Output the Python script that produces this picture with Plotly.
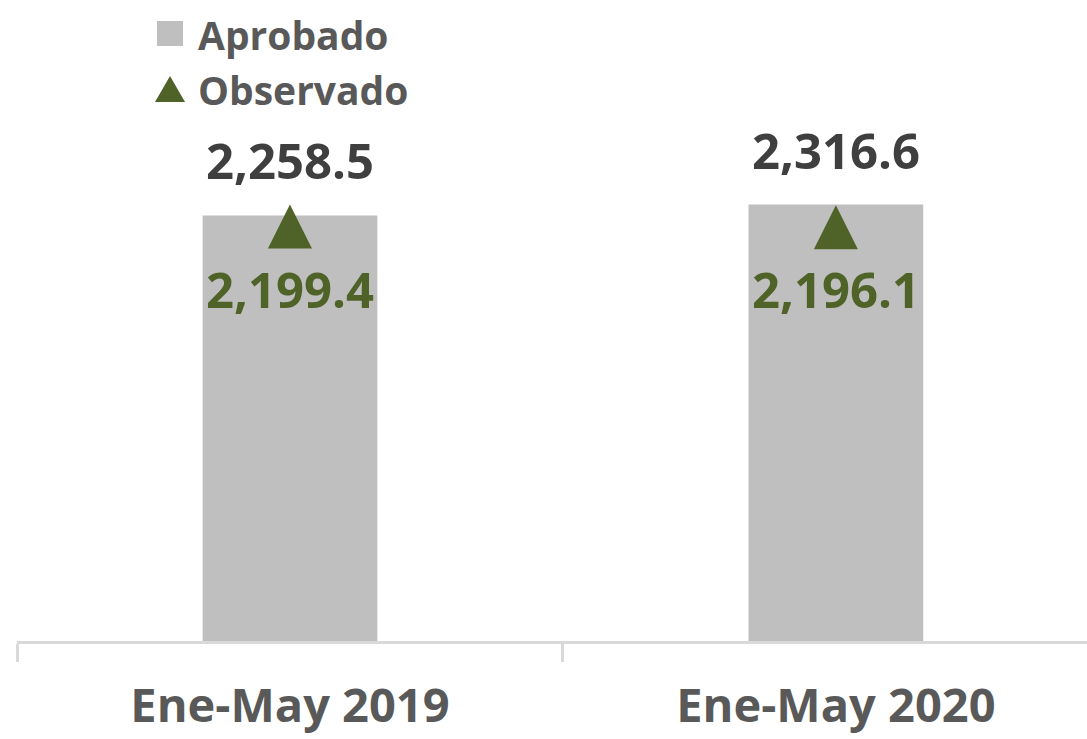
import plotly.graph_objects as go

categories = ["Ene-May 2019", "Ene-May 2020"]
aprobado = [2258.5, 2316.6]
observado = [2199.4, 2196.1]
legend_labels = ["Aprobado", "Observado"]

GRAY = "#BFBFBF"
GREEN = "#4F6228"
FONT = "Open Sans"

W, H = 1087, 739
ML, MR, MT, MB = 17, 0, 0, 98

fig = go.Figure()
fig.add_trace(go.Bar(
    x=categories, y=aprobado, name=legend_labels[0],
    marker=dict(color=GRAY, line=dict(width=0)), width=0.32,
    hoverinfo="x+y",
))
fig.add_trace(go.Scatter(
    x=categories, y=observado, name=legend_labels[1], mode="markers",
    marker=dict(symbol="arrow-down", angle=180, size=44, standoff=22,
                color=GREEN, line=dict(width=0)),
))

# data labels
for c, v in zip(categories, aprobado):
    fig.add_annotation(x=c, y=v, text=f"{v:,.1f}", showarrow=False,
                       yanchor="bottom", yshift=20,
                       font=dict(family=FONT, size=49, color="#3F3F3F", weight="bold"))
for c, v in zip(categories, observado):
    fig.add_annotation(x=c, y=v, text=f"{v:,.1f}", showarrow=False,
                       yanchor="middle", yshift=-62,
                       font=dict(family=FONT, size=49, color=GREEN, weight="bold"))

# manual legend (large symbols)
pw, ph = W - ML - MR, H - MT - MB
def px(x):
    return (x - ML) / pw
def py(y):
    return (H - MB - y) / ph

fig.add_shape(type="rect", xref="paper", yref="paper",
              x0=px(157), x1=px(183), y0=py(46), y1=py(21),
              fillcolor=GRAY, line=dict(width=0))
fig.add_shape(type="path", xref="paper", yref="paper",
              path=f"M {px(155)},{py(102)} L {px(185)},{py(102)} L {px(170)},{py(76)} Z",
              fillcolor=GREEN, line=dict(width=0))
for lbl, yc in zip(legend_labels, [34, 89]):
    fig.add_annotation(xref="paper", yref="paper", x=px(196), y=py(yc),
                       xanchor="left", yanchor="middle", text=lbl, showarrow=False,
                       font=dict(family=FONT, size=39, color="#595959", weight="bold"))

fig.update_layout(
    width=W, height=H,
    margin=dict(l=ML, r=MR, t=MT, b=MB),
    plot_bgcolor="white", paper_bgcolor="white",
    showlegend=False,
    xaxis=dict(
        type="category", range=[-0.5, 1.46],
        automargin=False,
        showline=True, linecolor="#D9D9D9", linewidth=3,
        ticks="outside", tickson="boundaries", ticklen=18,
        tickcolor="#D9D9D9", tickwidth=3,
        tickfont=dict(family=FONT, size=47, color="#595959", weight="bold"),
        ticklabelstandoff=22,
        showgrid=False, zeroline=False,
    ),
    yaxis=dict(range=[0, 3402], showgrid=False, zeroline=False, automargin=False,
               showticklabels=False, showline=False, ticks=""),
)

fig.write_html("out.html", config={"displayModeBar": False},
               post_script="document.body.style.margin='0';document.body.style.overflow='hidden';")
